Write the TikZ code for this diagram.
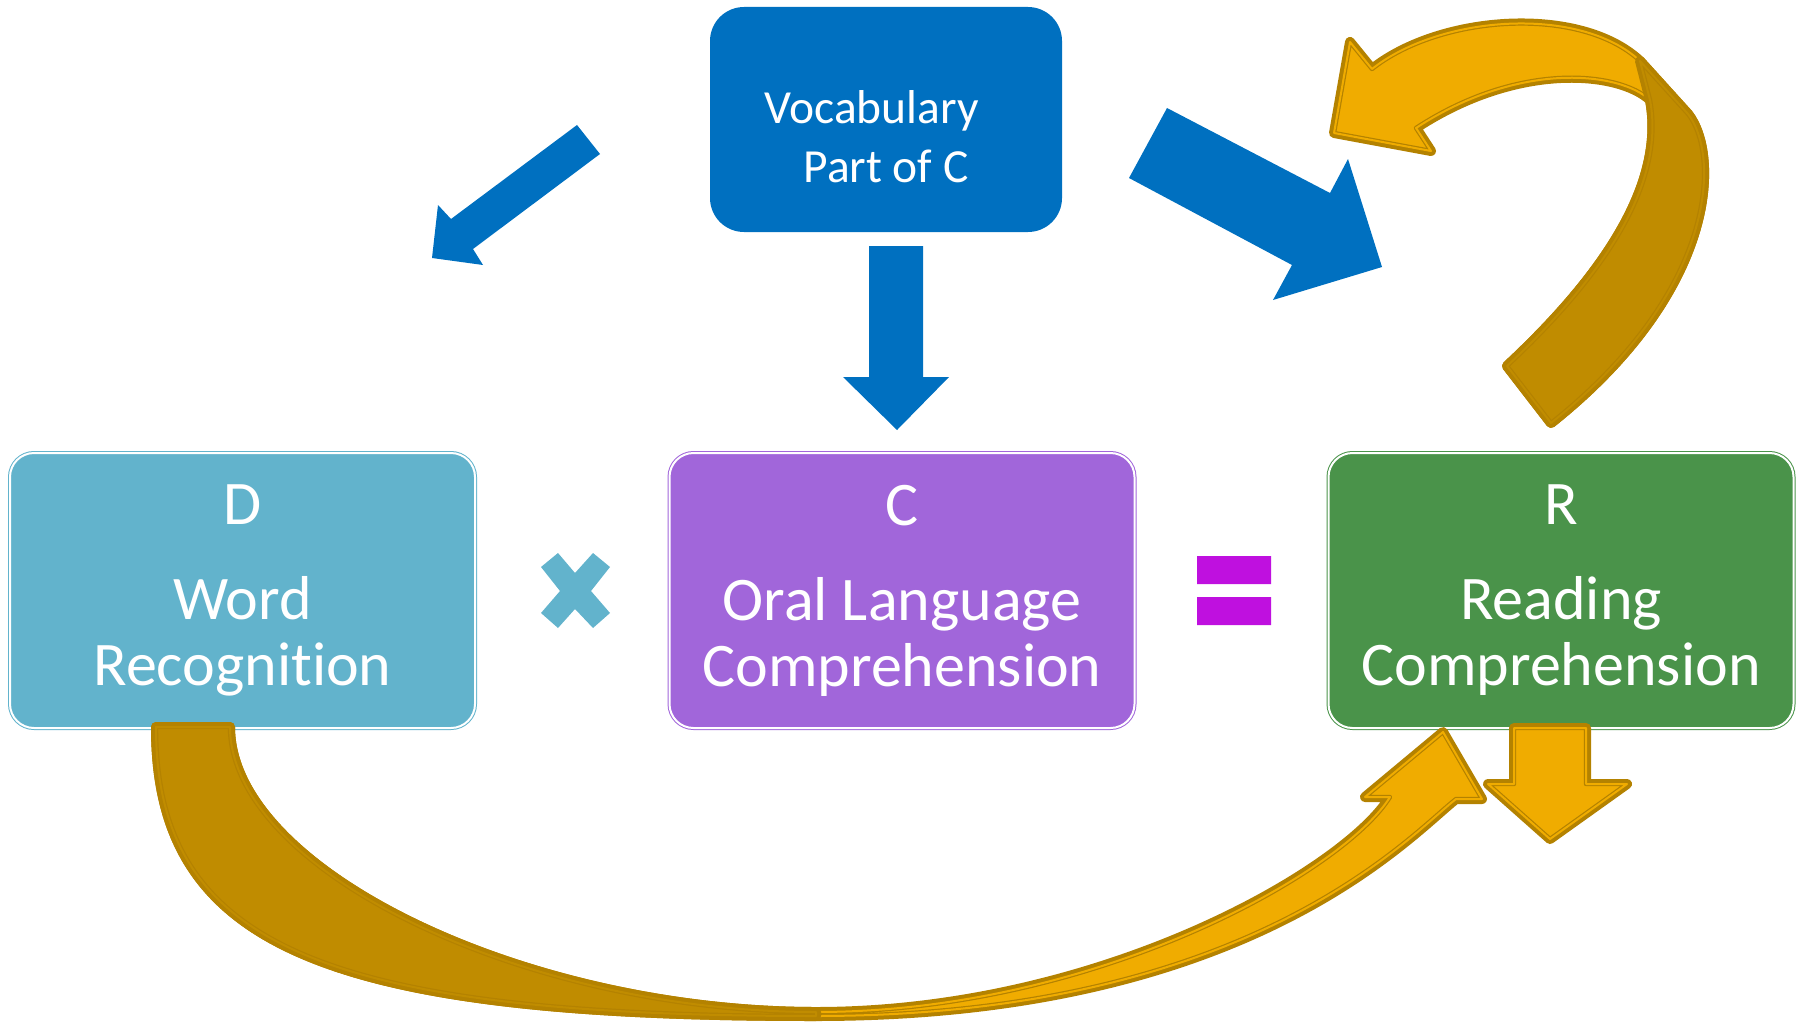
\documentclass[tikz,border=0pt]{standalone}
\usepackage{fontspec}
\setmainfont{Carlito}[Ligatures=NoCommon]
\definecolor{vocabBlue}{RGB}{0,112,192}
\definecolor{wordBlue}{RGB}{98,179,204}
\definecolor{oralPurple}{RGB}{161,102,218}
\definecolor{readGreen}{RGB}{74,147,74}
\definecolor{goldLight}{RGB}{240,172,0}
\definecolor{goldDark}{RGB}{192,140,0}
\definecolor{goldEdge}{RGB}{180,130,0}
\definecolor{eqMagenta}{RGB}{191,16,223}

\tikzset{
  termbox/.style={rounded corners=12pt, minimum width=232.5pt, minimum height=137.5pt,
    draw=#1, double=white, double distance=1pt, line width=0.5pt, fill=#1,
    text=white, align=center, font=\fontsize{31}{33}\selectfont},
  vocabbox/.style={rounded corners=17pt, fill=vocabBlue, minimum width=176pt, minimum height=112.5pt},
  vocabtext/.style={text=white, align=center, font=\fontsize{23.75}{29.5}\selectfont},
}

% ribbon piece: thick edge, fill, then thin inner line
\newcommand{\goldribbon}[2]{%
  \draw[goldEdge, line width=5pt, line join=round] #2;
  \fill[#1] #2;
  \draw[goldEdge, line width=0.6pt, double=#1, double distance=1pt, line join=round] #2;
}

\begin{document}
\begin{tikzpicture}[x=0.5pt, y=-0.5pt]
  \useasboundingbox (0,0) rectangle (1803,1022);

  \node[vocabbox] (vocab) at (886,119.5) {};
  \node[vocabtext, yshift=-8.5pt] (vocabLabel) at (vocab.center) {Vocabulary\rule{14.5pt}{0pt}\\Part of C};

  \node[termbox=wordBlue] (D) at (242.5,590.5) {D\\[14.5pt]Word\\Recognition};
  \node[termbox=oralPurple] (C) at (902,590.5) {C\\[14.5pt]Oral Language\\Comprehension};
  \node[termbox=readGreen] (R) at (1561,590.5) {R\\[14.5pt]Reading\\Comprehension};

  % times and equals
  \fill[wordBlue] (541,567) -- (558,553) -- (575,573) -- (593,553) -- (610,567) -- (591,591)
    -- (610,613) -- (593,628) -- (575,609) -- (558,628) -- (541,613) -- (560,591) -- cycle;
  \fill[eqMagenta] (1197,556) rectangle (1271,584) (1197,597) rectangle (1271,625);

  % blue block arrows
  \fill[vocabBlue] (577,125) -- (600,154) -- (473,249) -- (483,265) -- (432,258) -- (438,205) -- (451,219) -- cycle;
  \fill[vocabBlue] (869,246) -- (923,246) -- (923,377) -- (949,377) -- (897,430) -- (843,377) -- (869,377) -- cycle;
  \fill[vocabBlue] (1167,108) -- (1330,193) -- (1348,159) -- (1382,267) -- (1273,300) -- (1292,265) -- (1129,178) -- cycle;

  % gold arrows
  \goldribbon{goldLight}{(1514,728) -- (1586,728) -- (1586,784) -- (1627,784) -- (1550,839) -- (1488,784) -- (1514,784) -- cycle}

  \goldribbon{goldLight}{(156,727) .. controls (156,944) and (321,1016) .. (816,1016)
    .. controls (1250,1016) and (1410,835) .. (1456,799) -- (1482,799) -- (1443,732) -- (1365,797) -- (1390,797)
    .. controls (1345,870) and (1100,1012) .. (816,1012) .. controls (523,1012) and (230,870) .. (230,727) -- cycle}
  \goldribbon{goldDark}{(156,727) .. controls (156,944) and (321,1016) .. (816,1016) -- (816,1012)
    .. controls (523,1012) and (230,870) .. (230,727) -- cycle}

  \goldribbon{goldLight}{(1507,366) .. controls (1610,270) and (1665,180) .. (1650,100)
    .. controls (1620,72) and (1520,60) .. (1416,128) -- (1431,151) -- (1334,133) -- (1350,42) -- (1372,69)
    .. controls (1440,15) and (1580,5) .. (1640,61) -- (1688,114)
    .. controls (1720,155) and (1718,290) .. (1551,423) -- cycle}
  \goldribbon{goldDark}{(1507,366) .. controls (1610,270) and (1665,180) .. (1650,100) -- (1640,61) -- (1688,114)
    .. controls (1720,155) and (1718,290) .. (1551,423) -- cycle}
\end{tikzpicture}
\end{document}
